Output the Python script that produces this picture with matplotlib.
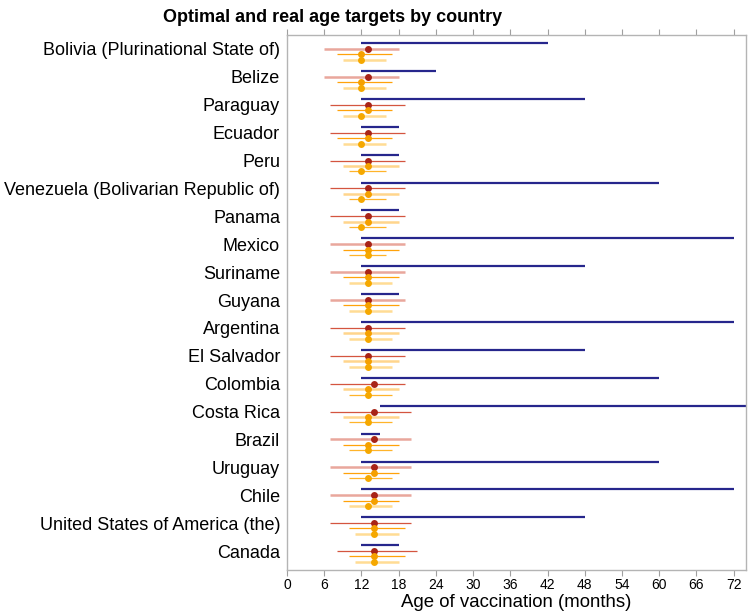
import numpy as np
import matplotlib
matplotlib.use('Agg')
import matplotlib.pyplot as plt
from matplotlib import font_manager

plt.rcParams['font.family'] = ['Liberation Sans', 'DejaVu Sans']

countries = ['Bolivia (Plurinational State of)', 'Belize', 'Paraguay', 'Ecuador', 'Peru',
             'Venezuela (Bolivarian Republic of)', 'Panama', 'Mexico', 'Suriname', 'Guyana',
             'Argentina', 'El Salvador', 'Colombia', 'Costa Rica', 'Brazil', 'Uruguay',
             'Chile', 'United States of America (the)', 'Canada']

# real age targets (blue bars)
real_lo = [12, 12, 12, 12, 12, 12, 12, 12, 12, 12, 12, 12, 12, 15, 12, 12, 12, 12, 12]
real_hi = [42, 24, 48, 18, 18, 60, 18, 72, 48, 18, 72, 48, 60, 80, 15, 60, 72, 48, 18]

# optimal targets, three estimates
red_mid = [13, 13, 13, 13, 13, 13, 13, 13, 13, 13, 13, 13, 14, 14, 14, 14, 14, 14, 14]
red_lo = [6, 6, 7, 7, 7, 7, 7, 7, 7, 7, 7, 7, 7, 7, 7, 7, 7, 7, 8]
red_hi = [18, 18, 19, 19, 19, 19, 19, 19, 19, 19, 19, 19, 19, 20, 20, 20, 20, 20, 21]
red_faint = [1, 1, 0, 0, 0, 0, 0, 1, 1, 1, 0, 0, 0, 0, 1, 1, 1, 0, 0]

org_mid = [12, 12, 13, 13, 13, 13, 13, 13, 13, 13, 13, 13, 13, 13, 13, 14, 14, 14, 14]
org_lo = [8, 8, 8, 8, 9, 9, 9, 9, 9, 9, 9, 9, 9, 9, 9, 9, 9, 10, 10]
org_hi = [17, 17, 17, 17, 18, 18, 18, 18, 18, 18, 18, 18, 18, 18, 18, 18, 18, 19, 19]
org_faint = [0, 0, 0, 0, 1, 1, 1, 0, 0, 0, 1, 1, 1, 1, 0, 0, 0, 0, 0]

yel_mid = [12, 12, 12, 12, 12, 12, 12, 13, 13, 13, 13, 13, 13, 13, 13, 13, 13, 14, 14]
yel_lo = [9, 9, 9, 9, 10, 10, 10, 10, 10, 10, 10, 10, 10, 10, 10, 10, 10, 11, 11]
yel_hi = [16, 16, 16, 16, 16, 16, 16, 16, 17, 17, 17, 17, 17, 17, 17, 17, 17, 18, 18]
yel_faint = [1, 1, 1, 1, 0, 0, 0, 0, 1, 1, 1, 1, 0, 0, 0, 0, 1, 1, 1]

xticks = list(range(0, 73, 6))

fig = plt.figure(figsize=(7.5, 6.13), dpi=100)
ax = fig.add_axes([0.3827, 0.0701, 0.612, 0.8728])

y = np.arange(len(countries))

# blue: real targets
ax.hlines(y - 0.21, real_lo, real_hi, color='#26268c', lw=1.6, zorder=2)

def draw_est(off, mid, lo, hi, faint, c_solid, c_faint, c_dot):
    for i in range(len(countries)):
        if faint[i]:
            ax.hlines(y[i] + off, lo[i], hi[i], color=c_faint, lw=1.8, zorder=2)
        else:
            ax.hlines(y[i] + off, lo[i], hi[i], color=c_solid, lw=0.9, zorder=2)
    ax.plot(mid, y + off, 'o', color=c_dot, ms=5, zorder=3, markeredgewidth=0)

draw_est(0.0, red_mid, red_lo, red_hi, red_faint, '#d4553f', '#e9a79c', '#a82418')
draw_est(0.19, org_mid, org_lo, org_hi, org_faint, '#ffa20a', '#ffd58c', '#f5a000')
draw_est(0.39, yel_mid, yel_lo, yel_hi, yel_faint, '#ffb42a', '#ffdc94', '#f5a800')

ax.set_xlim(0, 74)
ax.set_ylim(18.68, -0.5)
ax.set_yticks(y)
ax.set_yticklabels(countries, fontsize=13)
ax.set_xticks(xticks)
ax.set_xticklabels([str(t) for t in xticks], fontsize=10)
ax.tick_params(axis='y', length=0, pad=5)
ax.tick_params(axis='x', which='both', top=True, direction='out', length=4,
               color='#a0a0a0', pad=2)
for s in ax.spines.values():
    s.set_color('#b4b4b4')
    s.set_linewidth(1.0)
ax.set_xlabel('Age of vaccination (months)', fontsize=13.4, labelpad=1)

names = [f.name for f in font_manager.fontManager.ttflist]
if 'Liberation Sans Narrow' in names:
    fig.text(0.444, 0.972, 'Optimal and real age targets by country', ha='center', va='center',
             fontsize=17, fontweight='bold', family=['Liberation Sans Narrow', 'DejaVu Sans'])
else:
    fig.text(0.444, 0.972, 'Optimal and real age targets by country', ha='center', va='center',
             fontsize=13, fontweight='bold')

fig.savefig('out.png', dpi=100)
